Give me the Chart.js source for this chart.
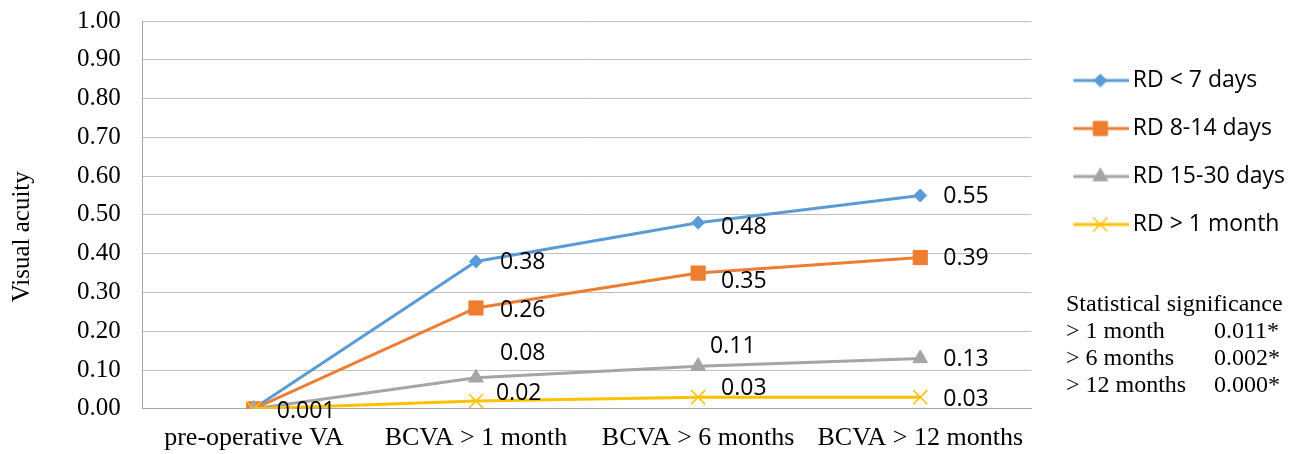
<!DOCTYPE html>
<html>
<head>
<meta charset="utf-8">
<script src="https://cdn.jsdelivr.net/npm/chart.js@4.4.1/dist/chart.umd.min.js"></script>
<style>
    body { margin: 0; background: #fff; }
    #wrap { position: relative; width: 1297px; height: 454px; }
    #stats {
        position: absolute; left: 1066px; top: 290px;
        font: 24px "Liberation Serif"; line-height: 27px;
        color: #000; white-space: nowrap;
    }
    #stats span { display: inline-block; width: 148px; }
</style>
</head>
<body>
<div id="wrap">
    <canvas id="vaChart" width="1297" height="454"></canvas>
    <div id="stats"></div>
</div>
<script>
// Chart data
const categories = ["pre-operative VA", "BCVA > 1 month", "BCVA > 6 months", "BCVA > 12 months"];
const seriesNames = ["RD < 7 days", "RD 8-14 days", "RD 15-30 days", "RD > 1 month"];
const rdUnder7 = [0.001, 0.38, 0.48, 0.55];
const rd8to14 = [0.00, 0.26, 0.35, 0.39];
const rd15to30 = [0.00, 0.08, 0.11, 0.13];
const rdOver1m = [0.00, 0.02, 0.03, 0.03];
const yMin = 0, yMax = 1, yStep = 0.1;

// Statistical significance note
const sigPeriods = ["> 1 month", "> 6 months", "> 12 months"];
const sigValues = ["0.011*", "0.002*", "0.000*"];

// Where each value label sits relative to its point (null = no label)
const labelDx = [[23, 24, 23, 23], [null, 24, 23, 23], [null, 24, 12, 23], [null, 20, 23, 23]];
const labelDy = [[3, 1, 5, 1], [0, 2, 8, 1], [0, -24, -20, 1], [0, -8, -9, 2]];

const colors = ["#5B9BD5", "#ED7D31", "#A5A5A5", "#FFC000"];
const markers = [
    { style: "rectRot", radius: 6.5 },
    { style: "rect", radius: 10 },
    { style: "triangle", radius: 8.5 },
    { style: "crossRot", radius: 10 }
];

const serif = { family: "Liberation Serif", size: 25 };

document.getElementById("stats").innerHTML =
    "Statistical significance<br>" +
    sigPeriods.map((p, i) => `<span>${p}</span>${sigValues[i]}`).join("<br>");

// Legend entry: short line with the series marker in the middle
function legendIcon(i) {
    const c = document.createElement("canvas");
    c.width = 81;
    c.height = 28;
    const ctx = c.getContext("2d");
    ctx.strokeStyle = colors[i];
    ctx.fillStyle = colors[i];
    ctx.lineWidth = 3;
    ctx.beginPath();
    ctx.moveTo(25, 14);
    ctx.lineTo(81, 14);
    ctx.stroke();
    ctx.lineWidth = markers[i].style === "crossRot" ? 1.5 : 1;
    Chart.helpers.drawPoint(ctx, {
        pointStyle: markers[i].style,
        radius: markers[i].radius,
        rotation: 0,
        borderWidth: ctx.lineWidth
    }, 52, 14);
    return c;
}

const valueLabels = {
    id: "valueLabels",
    afterDatasetsDraw(chart) {
        const ctx = chart.ctx;
        ctx.save();
        ctx.font = '23px "Open Sans"';
        ctx.fillStyle = "#000";
        ctx.textAlign = "left";
        ctx.textBaseline = "middle";
        chart.data.datasets.forEach((ds, i) => {
            chart.getDatasetMeta(i).data.forEach((pt, j) => {
                const dx = labelDx[i][j];
                if (dx === null) return;
                const v = ds.data[j];
                const txt = v > 0 && v < 0.01 ? v.toFixed(3) : v.toFixed(2);
                ctx.fillText(txt, pt.x + dx, pt.y + labelDy[i][j]);
            });
        });
        ctx.restore();
    }
};

const seriesData = [rdUnder7, rd8to14, rd15to30, rdOver1m];

const datasets = seriesData.map((d, i) => ({
    label: seriesNames[i],
    data: d,
    borderColor: colors[i],
    backgroundColor: colors[i],
    borderWidth: 3,
    pointStyle: markers[i].style,
    pointRadius: markers[i].radius,
    pointHoverRadius: markers[i].radius,
    pointBorderWidth: markers[i].style === "crossRot" ? 1.5 : 1,
    pointBackgroundColor: colors[i],
    pointBorderColor: colors[i],
    tension: 0,
    order: seriesData.length - 1 - i // later series drawn on top
}));

new Chart(document.getElementById("vaChart"), {
    type: "line",
    data: { labels: categories, datasets: datasets },
    options: {
        responsive: false,
        animation: false,
        layout: { padding: { left: 5, top: 21, right: 2, bottom: 0 } },
        plugins: {
            tooltip: { enabled: false },
            legend: {
                position: "right",
                align: "start",
                title: { display: true, text: " ", font: { size: 12, lineHeight: 1 }, padding: { top: 11, bottom: 0 } },
                labels: {
                    usePointStyle: true,
                    pointStyleWidth: 65,
                    padding: 25,
                    color: "#000",
                    font: { family: "Open Sans", size: 23 },
                    generateLabels: (chart) => chart.data.datasets.map((ds, i) => ({
                        text: ds.label,
                        pointStyle: legendIcon(i),
                        fillStyle: colors[i],
                        strokeStyle: colors[i],
                        lineWidth: 0,
                        fontColor: "#000",
                        datasetIndex: i
                    }))
                }
            }
        },
        scales: {
            x: {
                offset: true,
                grid: { display: false, drawTicks: true, tickLength: 14 },
                border: { display: true, color: "#A6A6A6" },
                ticks: { font: { family: "Liberation Serif", size: 26 }, color: "#000", padding: 0, maxRotation: 0, autoSkip: false }
            },
            y: {
                min: yMin,
                max: yMax,
                ticks: {
                    stepSize: yStep,
                    font: serif,
                    color: "#000",
                    padding: 0,
                    callback: (v) => v.toFixed(2)
                },
                grid: { color: "#BFBFBF", drawTicks: true, tickLength: 22, tickColor: "rgba(0,0,0,0)" },
                border: { color: "#A6A6A6" },
                title: {
                    display: true,
                    text: "Visual acuity" + "\u00A0".repeat(7),
                    font: serif,
                    color: "#000",
                    padding: { top: 2, bottom: 40 }
                }
            }
        }
    },
    plugins: [valueLabels]
});
</script>
</body>
</html>
